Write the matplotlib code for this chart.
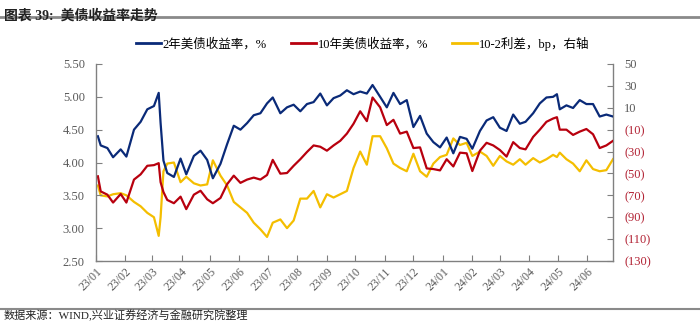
import pandas as pd
import matplotlib
matplotlib.use("Agg")
import matplotlib.pyplot as plt
import matplotlib.dates as mdates
from matplotlib.ticker import FixedLocator, FuncFormatter
from matplotlib.lines import Line2D

plt.rcParams["font.family"] = ["Liberation Serif", "Noto Sans CJK SC", "DejaVu Sans"]

# weekly-ish readings
dates = [
    "2023-01-03", "2023-01-06", "2023-01-13", "2023-01-19", "2023-01-27",
    "2023-02-02", "2023-02-10", "2023-02-17", "2023-02-24",
    "2023-03-03", "2023-03-08", "2023-03-10", "2023-03-13", "2023-03-17", "2023-03-24", "2023-03-31",
    "2023-04-06", "2023-04-14", "2023-04-21", "2023-04-28",
    "2023-05-04", "2023-05-12", "2023-05-19", "2023-05-26",
    "2023-06-02", "2023-06-09", "2023-06-16", "2023-06-23", "2023-06-30",
    "2023-07-06", "2023-07-14", "2023-07-21", "2023-07-28",
    "2023-08-04", "2023-08-11", "2023-08-18", "2023-08-25",
    "2023-09-01", "2023-09-08", "2023-09-15", "2023-09-22", "2023-09-29",
    "2023-10-06", "2023-10-13", "2023-10-19", "2023-10-27",
    "2023-11-03", "2023-11-10", "2023-11-17", "2023-11-24",
    "2023-12-01", "2023-12-08", "2023-12-15", "2023-12-22", "2023-12-29",
    "2024-01-05", "2024-01-12", "2024-01-19", "2024-01-26",
    "2024-02-01", "2024-02-09", "2024-02-16", "2024-02-23",
    "2024-03-01", "2024-03-08", "2024-03-15", "2024-03-22", "2024-03-28",
    "2024-04-05", "2024-04-12", "2024-04-19", "2024-04-26", "2024-04-30",
    "2024-05-03", "2024-05-10", "2024-05-17", "2024-05-24", "2024-05-31",
    "2024-06-07", "2024-06-14", "2024-06-21", "2024-06-28",
]

y2 = [
    4.40, 4.26, 4.22, 4.08, 4.20,
    4.09, 4.50, 4.62, 4.81,
    4.86, 5.06, 4.60, 4.03, 3.84, 3.78, 4.06,
    3.82, 4.10, 4.18, 4.04,
    3.76, 3.98, 4.28, 4.56,
    4.50, 4.60, 4.72, 4.75, 4.90,
    4.99, 4.75, 4.84, 4.88,
    4.78, 4.89, 4.92, 5.05,
    4.87, 4.98, 5.02, 5.10, 5.04,
    5.08, 5.05, 5.18, 5.00,
    4.84, 5.06, 4.89, 4.95,
    4.54, 4.71, 4.44, 4.31, 4.23,
    4.38, 4.14, 4.39, 4.36,
    4.21, 4.48, 4.64, 4.69,
    4.53, 4.48, 4.73, 4.59, 4.62,
    4.75, 4.90, 4.99, 5.00, 5.04,
    4.81, 4.87, 4.83, 4.95, 4.89,
    4.89, 4.70, 4.73, 4.70,
]

y10 = [
    3.79, 3.56, 3.51, 3.39, 3.52,
    3.39, 3.74, 3.82, 3.95,
    3.96, 3.99, 3.70, 3.55, 3.43, 3.38, 3.48,
    3.29, 3.51, 3.57, 3.44,
    3.38, 3.46, 3.67, 3.80,
    3.69, 3.74, 3.77, 3.74, 3.81,
    4.04, 3.83, 3.84, 3.95,
    4.05, 4.16, 4.26, 4.24,
    4.18, 4.26, 4.33, 4.44, 4.59,
    4.78, 4.63, 4.99, 4.84,
    4.57, 4.65, 4.44, 4.47,
    4.22, 4.23, 3.91, 3.90, 3.88,
    4.05, 3.94, 4.15, 4.14,
    3.87, 4.18, 4.30, 4.26,
    4.19, 4.09, 4.31, 4.22, 4.20,
    4.39, 4.50, 4.62, 4.67, 4.69,
    4.50, 4.50, 4.42, 4.47, 4.51,
    4.43, 4.22, 4.26, 4.33,
]

spread = [
    -61, -70, -71, -69, -68,
    -70, -76, -80, -86,
    -90, -107, -90, -48, -41, -40, -58,
    -53, -59, -61, -60,
    -38, -52, -61, -76,
    -81, -86, -95, -101, -108,
    -95, -92, -100, -93,
    -73, -73, -66, -81,
    -69, -72, -69, -66, -45,
    -30, -42, -16, -16,
    -27, -41, -45, -48,
    -32, -48, -53, -41, -35,
    -33, -18, -24, -22,
    -34, -30, -34, -43,
    -34, -39, -42, -37, -42,
    -36, -40, -37, -33, -35,
    -31, -37, -41, -48, -38,
    -46, -48, -47, -37,
]

labels = ["2年美债收益率，%", "10年美债收益率，%", "10-2利差，bp，右轴"]
c_2y = "#0A2A78"
c_10y = "#B8000E"
c_spread = "#F4BE00"
grey = "#808080"

d = pd.to_datetime(dates)

fig = plt.figure(figsize=(7.0, 3.24), dpi=100)
ax = fig.add_axes([0.1371, 0.1944, 0.7386, 0.6081])
ax2 = ax.twinx()

ax.plot(d, y2, color=c_2y, lw=1.6)
ax.plot(d, y10, color=c_10y, lw=1.6)
ax2.plot(d, spread, color=c_spread, lw=1.6)
ax2.set_zorder(ax.zorder - 1)
ax.patch.set_visible(False)

ax.set_ylim(2.5, 5.5)
ax.yaxis.set_major_locator(FixedLocator([2.5, 3.0, 3.5, 4.0, 4.5, 5.0, 5.5]))
ax.yaxis.set_major_formatter(FuncFormatter(lambda v, p: f"{v:.2f}"))
ax2.set_ylim(-130, 50)
ax2.yaxis.set_major_locator(FixedLocator(list(range(-130, 51, 20))))
ax2.yaxis.set_major_formatter(FuncFormatter(lambda v, p: f"({abs(int(v))})" if v < 0 else f"{int(v)}"))

ax.set_xlim(pd.Timestamp("2023-01-01"), pd.Timestamp("2024-06-28"))
ax.xaxis.set_major_locator(mdates.MonthLocator())
ax.xaxis.set_major_formatter(mdates.DateFormatter("%y/%m"))

for a in (ax, ax2):
    a.spines["top"].set_visible(False)
    for s in ("left", "right", "bottom"):
        a.spines[s].set_color(grey)
        a.spines[s].set_linewidth(1.0)
    a.tick_params(direction="in", length=4, color=grey, labelsize=9, labelcolor="#595959")
ax.spines["right"].set_visible(False)
ax2.spines["left"].set_visible(False)
ax2.spines["bottom"].set_visible(False)

ax.tick_params(axis="y", pad=8)
ax2.tick_params(axis="y", pad=8)
for lab in ax.get_xticklabels():
    lab.set_rotation(45)
    lab.set_ha("right")
    lab.set_rotation_mode("anchor")
    lab.set_fontsize(8.5)
for t, lab in zip(ax2.get_yticks(), ax2.get_yticklabels()):
    if t < 0:
        lab.set_color("#B22234")

handles = [Line2D([], [], color=c, lw=2) for c in (c_2y, c_10y, c_spread)]
fig.legend(handles, labels, loc="center", bbox_to_anchor=(0.518, 0.865), ncol=3,
           frameon=False, fontsize=9, handlelength=2.0, handletextpad=0.15,
           columnspacing=1.9)

fig.text(0.006, 0.972, "图表 39:  美债收益率走势", fontsize=10, fontweight="bold",
         va="top", ha="left", color="#222222")
fig.add_artist(Line2D([0, 1], [0.948, 0.948], transform=fig.transFigure, color="#8a8a8a", lw=2))
fig.add_artist(Line2D([0, 1], [0.046, 0.046], transform=fig.transFigure, color="#8a8a8a", lw=1.5))
fig.text(0.005, 0.025, "数据来源：WIND,兴业证券经济与金融研究院整理", fontsize=8,
         va="center", ha="left", color="#222222")

fig.savefig("out.png", dpi=100)
